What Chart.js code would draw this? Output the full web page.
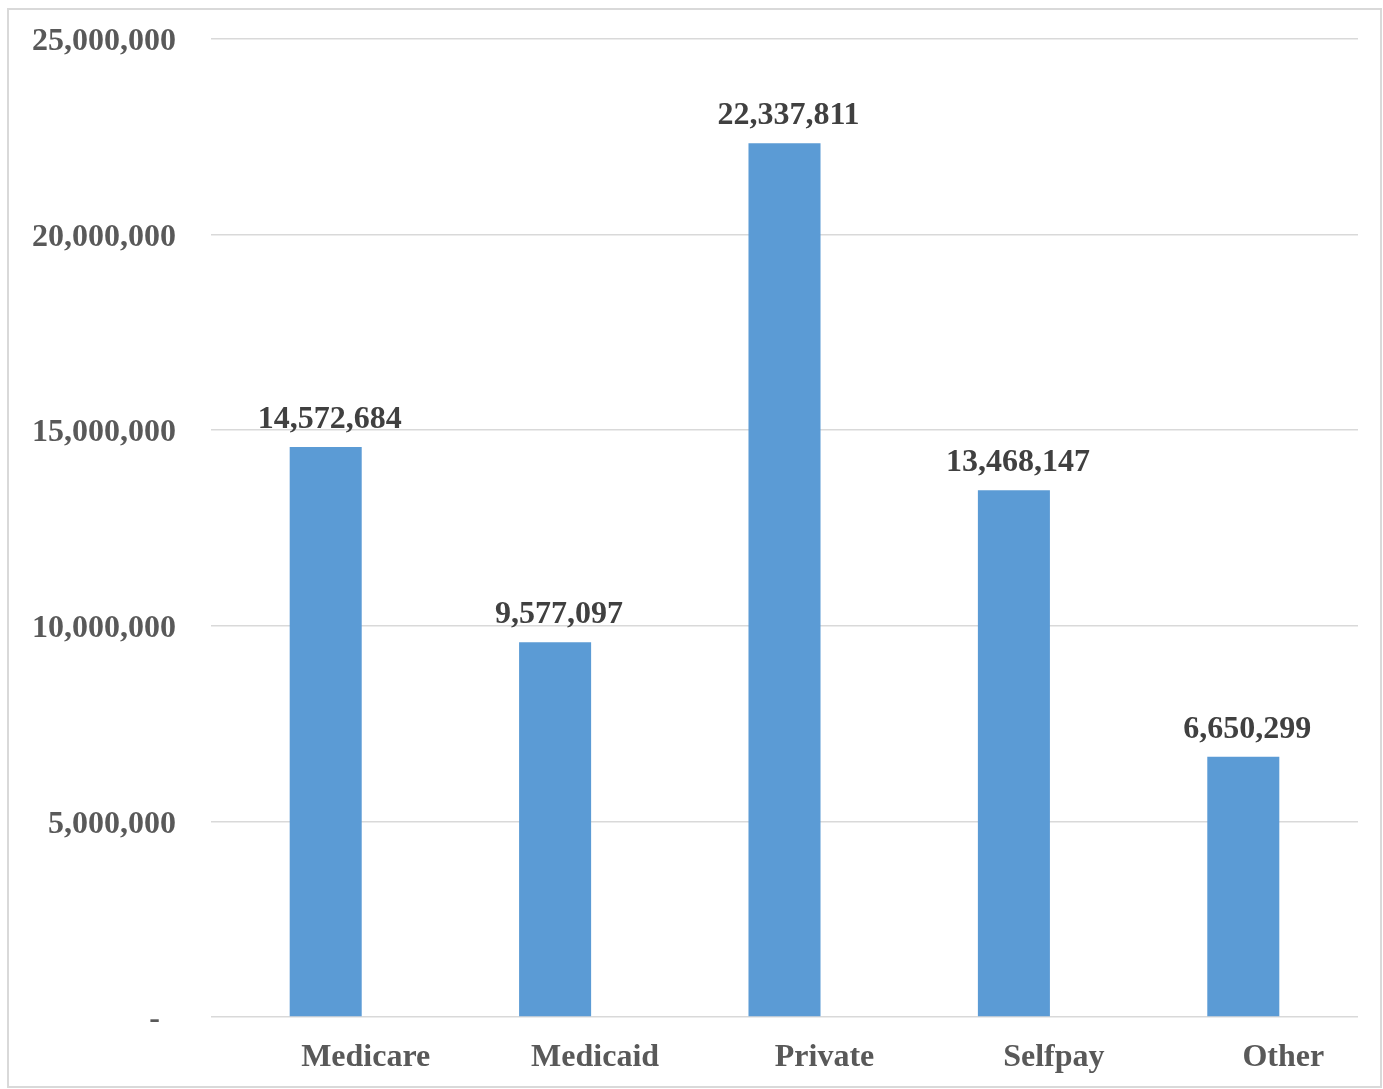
<!DOCTYPE html>
<html>
<head>
<meta charset="utf-8">
<script src="https://cdn.jsdelivr.net/npm/chart.js@4.4.1/dist/chart.umd.min.js"></script>
<style>
    body { margin: 0; background: #fff; }
    #wrap {
        position: absolute;
        left: 7px;
        top: 8px;
        width: 1375px;
        height: 1080px;
        border: 2px solid #d9d9d9;
        box-sizing: border-box;
    }
</style>
</head>
<body>
<div id="wrap"><canvas id="payerChart"></canvas></div>
<script>
const categories = ['Medicare', 'Medicaid', 'Private', 'Selfpay', 'Other'];
const values = [14572684, 9577097, 22337811, 13468147, 6650299];
const yTicks = [0, 5000000, 10000000, 15000000, 20000000, 25000000];

const fontFamily = '"Liberation Serif", "Times New Roman", serif';

// draws the number above each bar
const valueLabels = {
    id: 'valueLabels',
    afterDatasetsDraw(chart) {
        const ctx = chart.ctx;
        const meta = chart.getDatasetMeta(0);
        ctx.save();
        ctx.font = `bold 32px ${fontFamily}`;
        ctx.fillStyle = '#404040';
        ctx.textAlign = 'center';
        ctx.textBaseline = 'alphabetic';
        meta.data.forEach((bar, i) => {
            ctx.fillText(values[i].toLocaleString('en-US'), bar.x + 4, bar.y - 19);
        });
        ctx.restore();
    }
};

const ctx = document.getElementById('payerChart').getContext('2d');

new Chart(ctx, {
    type: 'bar',
    data: {
        labels: categories,
        datasets: [{
            data: values,
            backgroundColor: '#5B9BD5',
            borderWidth: 0,
            barPercentage: 1,
            categoryPercentage: 0.314
        }]
    },
    options: {
        responsive: true,
        maintainAspectRatio: false,
        animation: false,
        layout: {
            padding: { top: 29, right: 22, left: 0, bottom: 0 }
        },
        plugins: {
            legend: { display: false },
            tooltip: { enabled: false }
        },
        scales: {
            x: {
                grid: { display: false },
                border: { display: false },
                ticks: {
                    color: '#595959',
                    font: { family: fontFamily, size: 32, weight: 'bold' },
                    padding: 14,
                    labelOffset: 40,
                    maxRotation: 0
                },
                afterFit: (scale) => { scale.height = 69; }
            },
            y: {
                min: 0,
                max: 25000000,
                afterBuildTicks: (scale) => {
                    scale.ticks = yTicks.map(v => ({ value: v }));
                },
                grid: {
                    color: '#d9d9d9',
                    lineWidth: 1.5,
                    drawTicks: false
                },
                border: { display: false },
                ticks: {
                    color: '#595959',
                    font: { family: fontFamily, size: 32, weight: 'bold' },
                    padding: 35,
                    labelOffset: 3,
                    callback: (value) => value === 0 ? '-  ' : value.toLocaleString('en-US')
                },
                afterFit: (scale) => {
                    scale.width = 202;
                    scale.paddingTop = 0;
                    scale.paddingBottom = 0;
                }
            }
        }
    },
    plugins: [valueLabels]
});
</script>
</body>
</html>
